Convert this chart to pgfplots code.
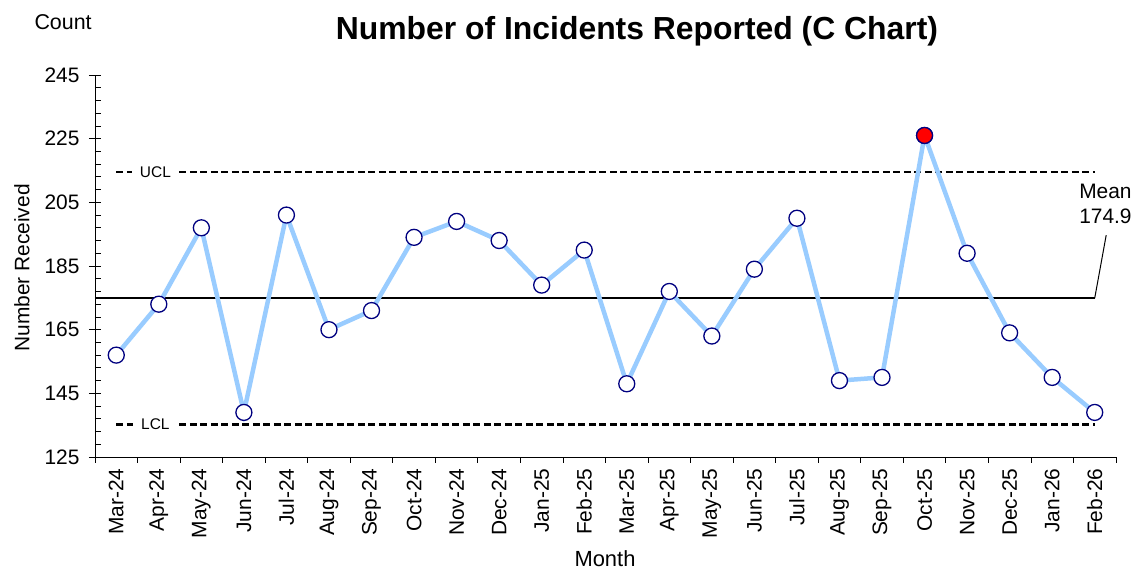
\documentclass[border=0pt]{standalone}
\usepackage{pgfplots}
\pgfplotsset{compat=1.18}
\usepackage{fontspec}
\setmainfont{Liberation Sans}
\definecolor{linec}{HTML}{99CCFF}
\definecolor{navym}{HTML}{000080}
\begin{document}
\begin{tikzpicture}[x=1bp,y=1bp]
\useasboundingbox (-95,-116) rectangle (1045,457);
\begin{axis}[
  scale only axis, width=1021bp, height=382bp,
  xmin=-0.5, xmax=23.5, ymin=125, ymax=245,
  clip=false,
  axis x line*=bottom, axis y line*=left,
  axis line style={-, black, line width=0.8bp},
  xtick={0,...,23},
  xticklabels={Mar-24,Apr-24,May-24,Jun-24,Jul-24,Aug-24,Sep-24,Oct-24,Nov-24,Dec-24,Jan-25,Feb-25,Mar-25,Apr-25,May-25,Jun-25,Jul-25,Aug-25,Sep-25,Oct-25,Nov-25,Dec-25,Jan-26,Feb-26},
  x tick style={draw=none},
  xticklabel style={rotate=90, anchor=east, font=\fontsize{21}{25}\selectfont, xshift=-8bp},
  extra x ticks={-0.5,0.5,...,23.5},
  extra x tick labels={},
  extra x tick style={tick align=outside, major tick length=6bp, x tick style={draw=black, line width=0.8bp}},
  ytick={125,145,...,245},
  minor y tick num=4,
  ytick align=inside,
  major tick length=6bp, minor tick length=6bp,
  y tick style={black, line width=0.8bp},
  yticklabel style={font=\fontsize{21}{25}\selectfont, xshift=-12bp},
  /pgf/number format/assume math mode=true,
  extra y ticks={125,145,...,245},
  extra y tick labels={},
  extra y tick style={ytick align=outside},
]
% control limits
\addplot[black, dashed, dash pattern=on 7bp off 3.5bp, line width=2.2bp] coordinates {(0,214.6) (23,214.6)};
\addplot[black, dashed, dash pattern=on 7bp off 3.5bp, line width=2.2bp] coordinates {(0,135.2) (23,135.2)};
\node[fill=white, inner xsep=8bp, inner ysep=2bp, font=\fontsize{15.5}{18}\selectfont] at (axis cs:0.92,214.6) {UCL};
\node[fill=white, inner xsep=8bp, inner ysep=2bp, font=\fontsize{15.5}{18}\selectfont] at (axis cs:0.92,135.2) {LCL};
% mean
\addplot[black, line width=2bp] coordinates {(-0.5,174.9) (23,174.9)};
\addplot[black, line width=1bp] coordinates {(23,174.9) (23.27,194.7)};
\node[anchor=east, align=right, font=\fontsize{21}{26}\selectfont] at (axis cs:23.95,204.5) {Mean\\174.9};
% data
\addplot[color=linec, line width=4.5bp, mark=*, mark size=8bp, mark options={fill=white, draw=navym, line width=1.3bp}] coordinates {
(0,157) (1,173) (2,197) (3,139) (4,201) (5,165) (6,171) (7,194) (8,199) (9,193) (10,179) (11,190)
(12,148) (13,177) (14,163) (15,184) (16,200) (17,149) (18,150) (19,226) (20,189) (21,164) (22,150) (23,139)};
\addplot[only marks, mark=*, mark size=8bp, mark options={fill=red, draw=navym, line width=1.3bp}] coordinates {(19,226)};
\end{axis}
\node[font=\bfseries\fontsize{32}{37}\selectfont] at (542,426) {Number of Incidents Reported (C Chart)};
\node[anchor=west, font=\fontsize{21.5}{25}\selectfont] at (-64,435) {Count};
\node[rotate=90, font=\fontsize{21}{25}\selectfont] at (-73,189) {Number Received};
\node[font=\fontsize{22}{26}\selectfont] at (510,-102) {Month};
\end{tikzpicture}
\end{document}
